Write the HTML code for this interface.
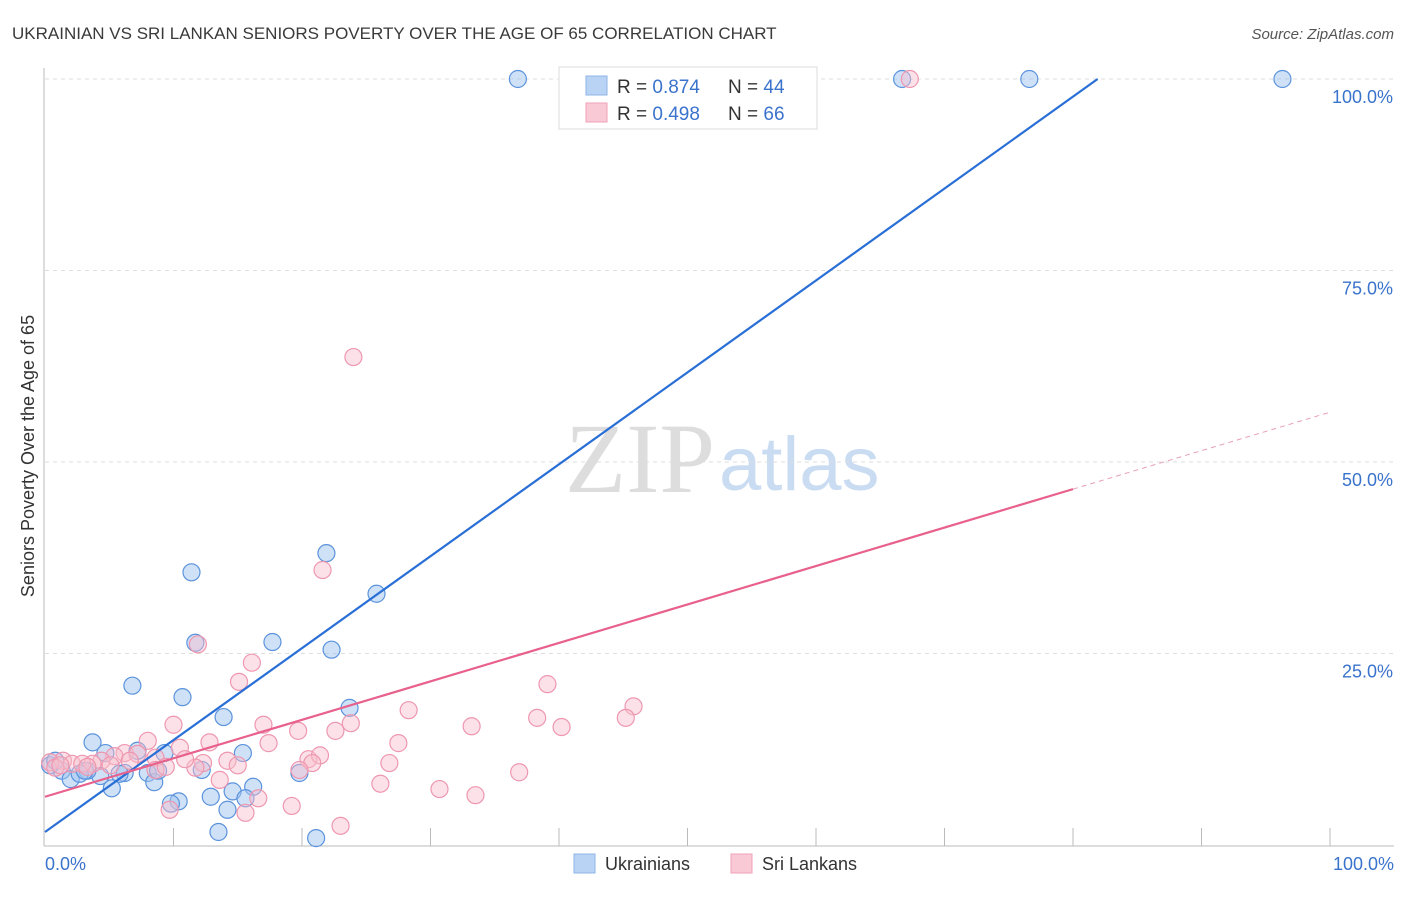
<!DOCTYPE html>
<html><head><meta charset="utf-8"><style>
body{margin:0;background:#fff;font-family:"Liberation Sans",sans-serif;}
svg text{font-family:"Liberation Sans",sans-serif;}
</style></head><body>
<svg id="chart" width="1406" height="892" xmlns="http://www.w3.org/2000/svg">
<text x="12" y="39" font-size="17" fill="#3a3a3a">UKRAINIAN VS SRI LANKAN SENIORS POVERTY OVER THE AGE OF 65 CORRELATION CHART</text>
<text x="1394" y="39" font-size="15" fill="#555" font-style="italic" text-anchor="end">Source: ZipAtlas.com</text>
<text x="34" y="456" font-size="18" fill="#333" text-anchor="middle" transform="rotate(-90 34 456)">Seniors Poverty Over the Age of 65</text>
<text x="715" y="492" font-size="100" fill="#ddd" style="font-family:'Liberation Serif',serif" text-anchor="end">ZIP</text>
<text x="719" y="490" font-size="76" fill="#c9dcf2">atlas</text>
<g id="grid"></g><g id="pts"></g><g id="lines"></g>
<g>
<rect x="559" y="67" width="258" height="62" fill="#fff" stroke="#ddd"/>
<rect x="586" y="76" width="21" height="19" fill="#b9d3f5" stroke="#8fb5e8"/>
<rect x="586" y="103" width="21" height="19" fill="#f9c9d6" stroke="#f0a2b8"/>
<text x="617" y="93" font-size="19" fill="#333">R = <tspan fill="#3a73cc">0.874</tspan><tspan x="728">N = </tspan><tspan fill="#3a73cc">44</tspan></text>
<text x="617" y="120" font-size="19" fill="#333">R = <tspan fill="#3a73cc">0.498</tspan><tspan x="728">N = </tspan><tspan fill="#3a73cc">66</tspan></text>
</g>
<g>
<rect x="574" y="854" width="21" height="19" fill="#b9d3f5" stroke="#8fb5e8"/>
<text x="605" y="870" font-size="18" fill="#333">Ukrainians</text>
<rect x="731" y="854" width="21" height="19" fill="#f9c9d6" stroke="#f0a2b8"/>
<text x="762" y="870" font-size="18" fill="#333">Sri Lankans</text>
</g>
</svg>
<script>
const yTicks=[25,50,75,100];
const yTickLabels=["25.0%","50.0%","75.0%","100.0%"];
const xLabels=["0.0%","100.0%"];
const blueX=[36.8,66.7,76.6,96.3,21.9,11.4,25.8,11.7,17.7,22.3,6.8,10.7,23.7,13.9,3.7,15.4,4.7,9.3,7.2,1.3,2.0,4.3,6.2,8.0,5.8,3.3,12.2,19.8,16.2,14.6,5.2,8.5,10.4,12.9,9.8,15.6,14.2,13.5,21.1,0.4,0.8,2.7,3.1,8.8];
const blueY=[100,100,100,100,38.1,35.6,32.8,26.4,26.5,25.5,20.8,19.3,17.9,16.7,13.4,12.0,12.0,12.0,12.3,9.7,8.6,9.0,9.4,9.4,9.3,9.7,9.8,9.4,7.6,7.0,7.4,8.2,5.7,6.3,5.4,6.1,4.6,1.7,0.9,10.4,11.0,9.3,9.7,9.7];
const pinkX=[67.3,24.0,21.6,11.9,16.1,39.1,15.1,45.8,28.3,45.2,38.3,40.2,33.2,23.8,17.0,10.0,19.7,22.6,8.0,12.8,17.4,27.5,10.5,6.2,5.4,4.4,3.7,7.2,8.6,12.3,14.2,20.5,21.4,20.8,26.8,36.9,11.7,19.8,8.6,1.4,2.1,0.4,0.8,2.9,9.4,26.1,30.7,33.5,16.6,19.2,15.6,9.7,23.0,13.6,10.9,6.6,3.3,5.1,1.2,15.0];
const pinkY=[100,63.7,35.9,26.2,23.8,21.0,21.3,18.1,17.6,16.6,16.6,15.4,15.5,15.9,15.7,15.7,14.9,14.9,13.6,13.4,13.3,13.3,12.7,12.0,11.6,11.0,10.6,11.9,11.4,10.7,11.0,11.2,11.7,10.7,10.7,9.5,10.1,9.8,9.8,11.0,10.6,10.8,10.1,10.6,10.2,8.0,7.3,6.5,6.1,5.1,4.2,4.6,2.5,8.5,11.2,11.0,10.2,10.4,10.4,10.4];
const blueFit=[1.7,1.2];   // intercept, slope
const pinkFit=[6.3,0.502];
const X0=45,X1=1330,Y0=845,Y100=79;
const sx=v=>X0+(X1-X0)*v/100, sy=v=>Y0-(Y0-Y100)*v/100;
const NS="http://www.w3.org/2000/svg";
function mk(t,a,p){const e=document.createElementNS(NS,t);for(const k in a)e.setAttribute(k,a[k]);p.appendChild(e);return e;}
const g=document.getElementById('grid');
mk('line',{x1:44,y1:68,x2:44,y2:846,stroke:'#bbb'},g);
mk('line',{x1:44,y1:846,x2:1394,y2:846,stroke:'#bbb'},g);
yTicks.forEach((t,i)=>{
 const l=mk('line',{x1:45,x2:1394,y1:sy(t),y2:sy(t),stroke:'#ddd','stroke-dasharray':'4,4'},g);
 
 
 const tx=mk('text',{x:1393,y:sy(t)+24,'font-size':18,fill:'#3a73cc','text-anchor':'end'},g);
 tx.textContent=yTickLabels[i];
 
 
});
for(let i=1;i<=10;i++){const l=mk('line',{x1:sx(i*10),x2:sx(i*10),y1:828,y2:846,stroke:'#bbb'},g);
 
 }
[[0,'start',45],[1,'end',1394]].forEach(([i,a,x])=>{const t=mk('text',{x:x,y:870,'font-size':18,fill:'#3a73cc','text-anchor':a},g);t.textContent=xLabels[i];
 
 });
const pg=document.getElementById('pts');
blueX.forEach((x,i)=>{const c=mk('circle',{cx:sx(x),cy:sy(blueY[i]),r:8.5,fill:'rgba(160,196,240,0.5)',stroke:'#5b93dc','stroke-width':1.2},pg);
 
 });
pinkX.forEach((x,i)=>{const c=mk('circle',{cx:sx(x),cy:sy(pinkY[i]),r:8.5,fill:'rgba(248,190,205,0.45)',stroke:'#ee97b0','stroke-width':1.2},pg);
 
 });
const lg=document.getElementById('lines');
const bxEnd=(100-blueFit[0])/blueFit[1];
const bl=mk('line',{x1:sx(0),y1:sy(blueFit[0]),x2:sx(bxEnd),y2:sy(100),stroke:'#2a6fd6','stroke-width':2.2},lg);


const pl=mk('line',{x1:sx(0),y1:sy(pinkFit[0]),x2:sx(80),y2:sy(pinkFit[0]+80*pinkFit[1]),stroke:'#e8618c','stroke-width':2.2},lg);


const pd=mk('line',{x1:sx(80),y1:sy(pinkFit[0]+80*pinkFit[1]),x2:sx(100),y2:sy(pinkFit[0]+100*pinkFit[1]),stroke:'#e8a0b6','stroke-width':1,'stroke-dasharray':'5,4'},lg);


</script>
</body></html>
